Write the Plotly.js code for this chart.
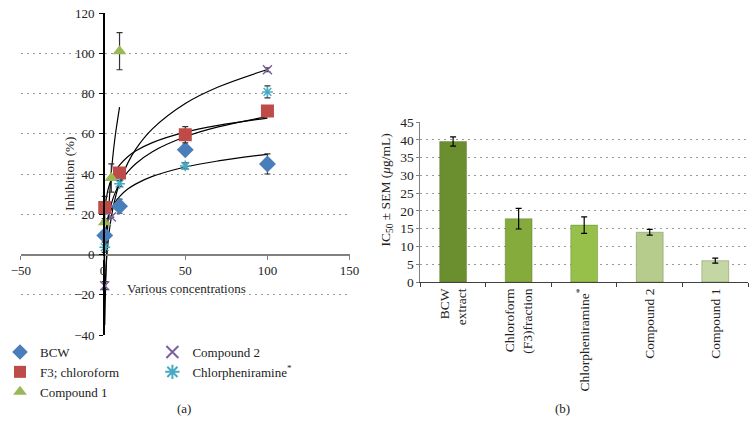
<!DOCTYPE html>
<html>
<head>
<meta charset="utf-8">
<script src="https://cdn.plot.ly/plotly-3.0.1.min.js"></script>
<style>html,body{margin:0;padding:0;background:#fff;}#chart{width:756px;height:426px;}</style>
</head>
<body>
<div id="chart"></div>
<script>
// ---- Panel (a): inhibition data ----
const bcwConc = [1, 10, 50, 100];
const bcwVal = [9.5, 24, 52, 45];
const bcwErr = [2, 3.5, 0, 5];

const f3Conc = [1, 10, 50, 100];
const f3Val = [23.4, 40.5, 59.5, 71.3];
const f3Err = [5.5, 0, 4, 0];

const c1Conc = [1, 5, 10];
const c1Val = [16, 38, 101];
const c1Err = [1, 7, 9.2];

const c2Conc = [1, 5, 100];
const c2Val = [-15.5, 18.6, 91.8];
const c2Err = [2, 0, 1];

const chlConc = [1, 10, 50, 100];
const chlVal = [3.6, 35.2, 44, 80.8];
const chlErr = [2.5, 1.5, 1.5, 3];

// trend lines
const trendX = [1, 1.5, 2, 3, 5, 7, 10, 15, 20, 30, 50, 70, 100];
const bcwTrend = [7.9, 11.6, 14.2, 17.9, 22.5, 25.6, 28.8, 32.5, 35.1, 38.8, 43.5, 46.5, 49.8];
const f3Trend = [21.1, 25.2, 28.1, 32.2, 37.4, 40.8, 44.4, 48.6, 51.5, 55.6, 60.8, 64.2, 67.8];
const chlTrend = [1.8, 7.7, 11.8, 17.7, 25.1, 30.0, 35.2, 41.0, 45.2, 51.1, 58.5, 63.4, 68.5];
const c2Trend = [-20.9, -11.0, -3.9, 6.0, 18.5, 26.8, 35.5, 45.4, 52.5, 62.4, 75.0, 83.2, 91.9];
const c1TrendX = [1, 1.5, 2, 3, 5, 7, 10];
const c1Trend = [-35, -16, -2.4, 16.6, 40.6, 56.5, 73.2];

// ---- Panel (b): IC50 data ----
const icCats = ["BCW<br>extract", "Chloroform<br>(F3)fraction", "Chlorpheniramine<sup>*</sup>", "Compound 2", "Compound 1"];
const icVal = [39.5, 17.8, 16.0, 14.0, 6.0];
const icErr = [1.3, 2.9, 2.3, 0.8, 0.7];
const icColors = ["#6b8f2f", "#84ab3c", "#97c04a", "#b5cc8c", "#c4d6a4"];

const FONT = "Liberation Serif";
const errStyle = (arr) => ({type: 'data', array: arr, visible: true, color: '#333', thickness: 1.2, width: 3});

const traces = [];
const trendSets = [[trendX, bcwTrend], [trendX, f3Trend], [trendX, chlTrend], [trendX, c2Trend], [c1TrendX, c1Trend]];
trendSets.forEach(([x, y]) => traces.push({
  x: x, y: y, type: 'scatter', mode: 'lines', line: {color: '#000', width: 1.2, shape: 'spline'},
  showlegend: false, hoverinfo: 'skip', xaxis: 'x', yaxis: 'y'
}));

traces.push({x: bcwConc, y: bcwVal, error_y: errStyle(bcwErr), type: 'scatter', mode: 'markers', name: 'BCW',
  marker: {symbol: 'diamond', size: 13, color: '#4a7ebb'}, legend: 'legend', xaxis: 'x', yaxis: 'y'});
traces.push({x: f3Conc, y: f3Val, error_y: errStyle(f3Err), type: 'scatter', mode: 'markers', name: 'F3; chloroform',
  marker: {symbol: 'square', size: 13, color: '#be4b48'}, legend: 'legend', xaxis: 'x', yaxis: 'y'});
traces.push({x: c1Conc, y: c1Val, error_y: errStyle(c1Err), type: 'scatter', mode: 'markers', name: 'Compound 1',
  marker: {symbol: 'triangle-up', size: 12, color: '#98b954'}, legend: 'legend', xaxis: 'x', yaxis: 'y'});
traces.push({x: c2Conc, y: c2Val, error_y: errStyle(c2Err), type: 'scatter', mode: 'markers', name: 'Compound 2',
  marker: {symbol: 'x-thin-open', size: 9, color: '#7d60a0', line: {width: 1.5, color: '#7d60a0'}}, legend: 'legend2', xaxis: 'x', yaxis: 'y'});
traces.push({x: chlConc, y: chlVal, error_y: errStyle(chlErr), type: 'scatter', mode: 'markers', name: 'Chlorpheniramine<sup>*</sup>',
  marker: {symbol: 'asterisk-open', size: 9, color: '#46aac5', line: {width: 1.5, color: '#46aac5'}}, legend: 'legend2', xaxis: 'x', yaxis: 'y'});

traces.push({x: icCats, y: icVal, type: 'bar', width: 0.41, showlegend: false,
  marker: {color: icColors, line: {color: 'rgba(80,100,40,0.35)', width: 1}},
  error_y: {type: 'data', array: icErr, visible: true, color: '#000', thickness: 1.2, width: 3},
  xaxis: 'x2', yaxis: 'y2'});

const W = 756, H = 426;
const px = v => v / W, py = v => (H - v) / H;
const DOT = '2px,4px';
const GRID = '#9a9a9a';

const ann = (text, x, y, extra) => Object.assign({text: text, x: px(x), y: py(y), xref: 'paper', yref: 'paper',
  xanchor: 'center', yanchor: 'middle', showarrow: false, font: {size: 13, family: FONT, color: '#222'}}, extra || {});

const layout = {
  width: W, height: H,
  margin: {l: 0, r: 0, t: 0, b: 0},
  paper_bgcolor: '#fff', plot_bgcolor: 'rgba(0,0,0,0)',
  font: {family: FONT, size: 12, color: '#222'},
  showlegend: true,
  xaxis: {
    domain: [px(18), px(348)], range: [-50, 150], dtick: 50, anchor: 'free', position: py(254),
    showline: true, linecolor: '#808080', linewidth: 1.5, ticks: 'outside', ticklen: 4, tickcolor: '#808080',
    showgrid: false, zeroline: false, tickfont: {size: 13, family: FONT}, automargin: false
  },
  yaxis: {
    domain: [py(335), py(13)], range: [-40, 120], dtick: 20, anchor: 'free', position: px(100.5),
    showline: true, linecolor: '#000', linewidth: 1.5, ticks: 'outside', ticklen: 4, tickcolor: '#000',
    ticklabelstandoff: 2,
    showgrid: true, gridcolor: GRID, griddash: DOT, gridwidth: 1, zeroline: false,
    tickfont: {size: 13, family: FONT}, automargin: false
  },
  xaxis2: {
    domain: [px(419), px(748)], anchor: 'y2', type: 'category', tickangle: -90, tickson: 'boundaries',
    showline: true, linecolor: '#404040', linewidth: 1.2, ticks: 'outside', ticklen: 4, tickcolor: '#404040',
    showgrid: false, tickfont: {size: 13.5, family: FONT}, automargin: false
  },
  yaxis2: {
    domain: [py(282), py(122)], anchor: 'x2', range: [0, 45], dtick: 5,
    showline: true, linecolor: '#808080', linewidth: 1, ticks: 'outside', ticklen: 3, tickcolor: '#808080',
    showgrid: true, gridcolor: GRID, griddash: DOT, gridwidth: 1, zeroline: false,
    tickfont: {size: 13.5, family: FONT}, automargin: false
  },
  legend: {x: px(-3), y: py(337), xanchor: 'left', yanchor: 'top', orientation: 'v', itemwidth: 30,
    itemsizing: 'constant',
    font: {size: 13, family: FONT}, bgcolor: 'rgba(0,0,0,0)', tracegroupgap: 0},
  legend2: {x: px(150), y: py(337), xanchor: 'left', yanchor: 'top', orientation: 'v', itemwidth: 30,
    itemsizing: 'constant',
    font: {size: 13, family: FONT}, bgcolor: 'rgba(0,0,0,0)', tracegroupgap: 0},
  annotations: [
    ann('Inhibition (%)', 66, 174, {textangle: -90}),
    ann('Various concentrations', 184, 288),
    ann('IC<sub>50</sub> ± SEM (<i>μ</i>g/mL)', 385, 190, {textangle: -90, font: {size: 13.5, family: FONT, color: '#222'}}),
    ann('(a)', 182, 408),
    ann('(b)', 562, 408)
  ]
};

Plotly.newPlot('chart', traces, layout, {displayModeBar: false, staticPlot: true});
</script>
</body>
</html>
